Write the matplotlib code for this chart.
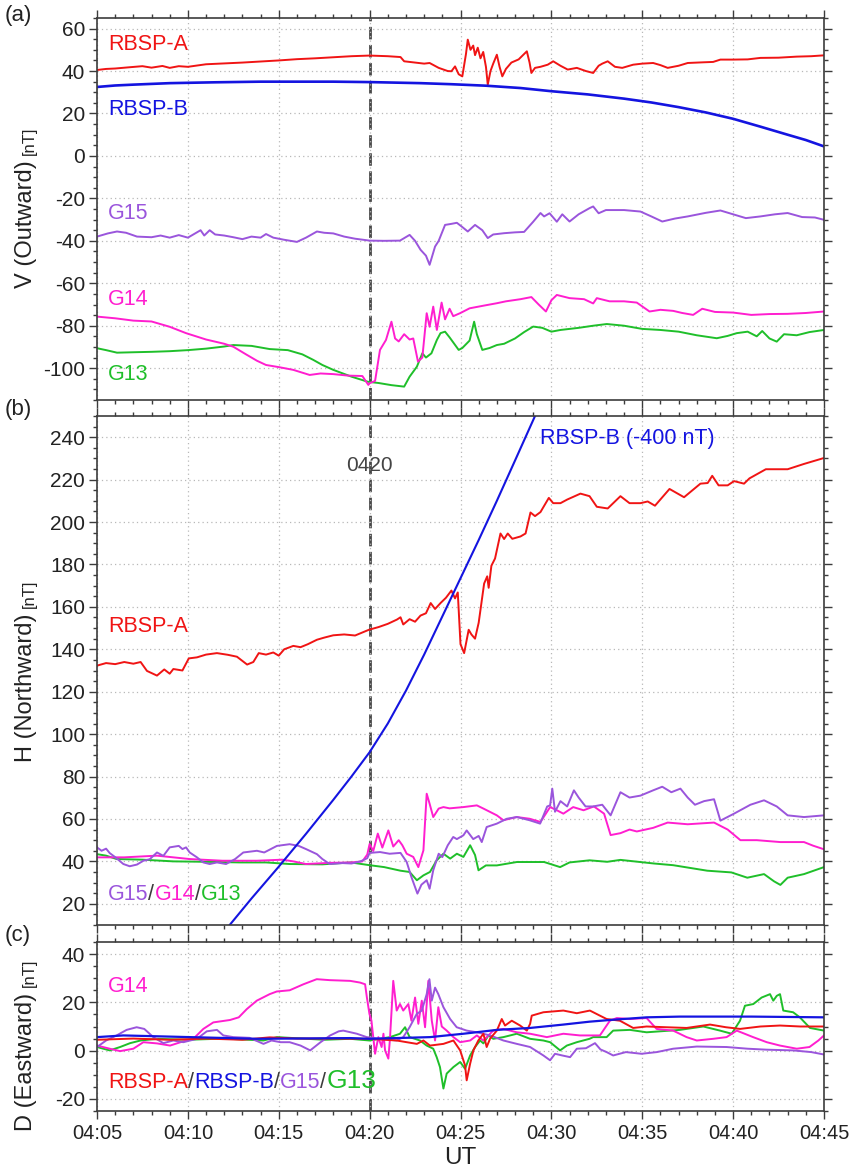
import matplotlib
matplotlib.use("Agg")
import matplotlib.pyplot as plt
import matplotlib.transforms as mtransforms
from matplotlib.ticker import FixedLocator, MultipleLocator

plt.rcParams['font.family'] = ['Liberation Sans', 'DejaVu Sans']
plt.rcParams['axes.unicode_minus'] = False

# time axis: minutes after 04:00 UT
xticks = [5, 10, 15, 20, 25, 30, 35, 40, 45]
xticklabels = ["04:05", "04:10", "04:15", "04:20", "04:25", "04:30", "04:35", "04:40", "04:45"]
t_mark = 20

# ---- panel (a): V (outward) ----
a_rbspa = [(5.0, 40.5), (5.5, 41.0), (6.0, 41.2), (6.8, 41.8), (7.5, 42.3), (8.0, 41.6), (8.6, 42.4),
           (9.0, 41.5), (9.5, 42.3), (10.0, 42.0), (11.0, 43.2), (12.0, 43.6), (13.0, 44.0), (14.0, 44.5),
           (15.0, 45.0), (16.0, 45.6), (17.0, 46.0), (18.0, 46.5), (19.0, 47.0), (20.0, 47.3), (21.0, 47.0),
           (21.7, 46.6), (21.9, 44.6), (22.5, 44.0), (23.0, 43.5), (23.3, 43.8), (23.8, 41.5), (24.3, 40.0),
           (24.5, 39.9), (24.7, 42.2), (24.9, 38.5), (25.1, 37.5), (25.3, 48.0), (25.4, 54.8), (25.55, 50.0),
           (25.7, 52.0), (25.8, 47.5), (25.95, 51.0), (26.1, 46.0), (26.25, 49.0), (26.4, 42.0), (26.5, 33.6),
           (26.65, 40.0), (26.8, 43.5), (27.0, 47.7), (27.15, 42.0), (27.3, 37.5), (27.5, 41.0), (27.8, 44.0),
           (28.2, 45.5), (28.65, 49.3), (28.8, 44.0), (28.9, 39.1), (29.1, 41.5), (29.4, 42.0), (29.8, 43.0),
           (30.1, 44.6), (30.5, 42.5), (30.9, 40.7), (31.4, 41.5), (31.9, 40.0), (32.3, 39.1), (32.6, 42.5),
           (32.8, 43.5), (33.1, 44.6), (33.5, 42.0), (33.9, 41.5), (34.5, 43.0), (35.0, 43.5), (35.6, 43.8),
           (36.0, 42.8), (36.4, 41.5), (37.0, 42.5), (37.5, 43.8), (38.3, 44.1), (38.9, 44.3), (39.3, 45.4),
           (40.0, 45.4), (40.8, 45.5), (41.5, 46.2), (42.5, 46.3), (43.5, 46.8), (44.3, 47.0), (45.0, 47.4)]
a_rbspb = [(5.0, 32.5), (6.0, 33.2), (7.0, 33.6), (9.0, 34.3), (11.5, 34.7), (14.0, 35.0), (18.0, 35.0),
           (20.0, 34.8), (22.8, 34.3), (24.5, 33.8), (26.4, 33.1), (28.3, 32.0), (30.0, 30.5), (32.0, 29.0),
           (34.0, 27.0), (35.5, 25.2), (37.0, 23.0), (38.5, 20.5), (40.0, 17.5), (41.5, 13.8), (43.0, 10.0),
           (44.0, 7.5), (45.0, 4.5)]
a_g15 = [(5.0, -38.0), (5.6, -36.5), (6.1, -35.6), (6.6, -36.2), (7.2, -38.0), (8.0, -38.3), (8.5, -37.5),
         (9.0, -38.5), (9.5, -37.3), (10.0, -38.5), (10.5, -36.0), (10.7, -35.0), (10.9, -37.5), (11.2, -35.0),
         (11.5, -37.0), (12.0, -37.5), (12.5, -38.3), (13.0, -39.2), (13.5, -38.0), (14.0, -38.5), (14.3, -36.8),
         (14.7, -38.5), (15.3, -39.5), (16.0, -40.5), (16.5, -38.5), (17.1, -35.6), (17.5, -36.2), (18.0, -36.5),
         (18.6, -38.0), (19.2, -39.0), (20.0, -39.9), (20.8, -40.0), (21.67, -39.9), (22.2, -37.2), (22.5, -40.0),
         (22.8, -44.2), (23.1, -47.0), (23.3, -51.3), (23.6, -42.7), (23.8, -40.0), (24.15, -32.5), (24.5, -32.0),
         (24.8, -31.5), (25.1, -33.5), (25.4, -35.6), (25.8, -32.5), (26.2, -35.0), (26.5, -38.7), (26.8, -37.0),
         (27.4, -36.4), (28.0, -36.0), (28.5, -35.8), (29.0, -31.0), (29.4, -26.9), (29.6, -28.5), (29.9, -27.0),
         (30.3, -31.0), (30.6, -27.5), (31.0, -30.9), (31.5, -27.5), (32.1, -24.6), (32.3, -23.8), (32.6, -27.0),
         (33.0, -25.5), (34.0, -25.5), (34.9, -26.2), (35.5, -28.5), (36.1, -30.9), (36.8, -29.5), (37.5, -28.5),
         (38.5, -26.8), (39.3, -25.7), (40.0, -27.5), (40.7, -29.3), (41.5, -28.5), (42.3, -27.5), (43.0, -26.9),
         (43.8, -28.8), (44.5, -29.0), (45.0, -30.1)]
a_g14 = [(5.0, -75.7), (6.0, -76.5), (7.0, -77.6), (8.0, -78.0), (9.0, -80.5), (9.9, -83.5), (11.0, -86.5),
         (12.0, -88.5), (12.5, -89.9), (13.2, -93.5), (13.8, -96.5), (14.3, -98.5), (15.0, -99.5), (15.8, -100.8),
         (16.7, -103.2), (17.3, -102.5), (18.0, -102.8), (18.8, -103.5), (19.6, -103.7), (19.93, -107.9),
         (20.0, -107.1), (20.3, -106.0), (20.57, -91.4), (20.9, -86.7), (21.2, -78.1), (21.4, -86.0), (21.6, -87.4),
         (21.9, -84.0), (22.2, -86.5), (22.4, -86.0), (22.66, -96.9), (22.9, -95.0), (23.14, -74.1), (23.3, -80.5),
         (23.5, -71.0), (23.7, -82.0), (23.96, -69.1), (24.15, -77.0), (24.4, -72.0), (24.6, -75.5), (25.0, -74.0),
         (25.5, -71.8), (26.3, -70.5), (27.0, -69.4), (27.5, -68.5), (28.3, -67.5), (28.9, -66.5), (29.3, -70.0),
         (29.7, -73.3), (30.0, -68.0), (30.3, -65.5), (31.0, -67.0), (31.8, -67.5), (32.3, -69.5), (32.5, -67.0),
         (33.2, -68.5), (34.0, -68.5), (34.7, -69.1), (35.4, -73.3), (36.0, -72.5), (36.7, -73.0), (37.2, -74.0),
         (37.8, -74.9), (38.3, -72.0), (39.0, -73.5), (40.0, -73.8), (41.0, -74.9), (42.0, -74.5), (43.0, -74.4),
         (44.0, -74.0), (45.0, -73.3)]
a_g13 = [(5.0, -90.6), (5.5, -91.5), (6.1, -92.7), (7.0, -92.5), (8.0, -92.3), (9.0, -92.0), (10.0, -91.5),
         (11.0, -90.8), (12.0, -89.8), (12.5, -89.1), (13.5, -89.5), (14.5, -91.0), (15.5, -91.5), (16.3, -93.5),
         (16.9, -96.1), (17.4, -98.5), (18.0, -100.8), (19.0, -104.0), (19.9, -106.4), (20.5, -107.0),
         (21.2, -108.0), (21.9, -108.7), (22.2, -104.0), (22.6, -99.3), (22.9, -93.0), (23.1, -95.0),
         (23.4, -93.0), (23.7, -86.7), (23.9, -83.5), (24.15, -82.8), (24.4, -85.5), (24.9, -91.4), (25.1, -90.5),
         (25.5, -87.0), (25.75, -78.1), (25.9, -84.0), (26.2, -91.4), (26.6, -90.5), (27.0, -89.1), (27.4, -88.5),
         (28.0, -86.0), (28.5, -83.0), (29.0, -80.4), (29.5, -81.0), (30.0, -82.8), (30.5, -82.0), (31.5, -81.0),
         (32.3, -80.0), (33.05, -79.2), (34.0, -80.0), (35.0, -81.5), (36.0, -82.0), (37.0, -82.8), (38.0, -84.5),
         (39.1, -85.9), (39.7, -84.8), (40.2, -83.5), (40.8, -82.8), (41.3, -85.0), (41.6, -82.5), (42.0, -86.0),
         (42.4, -87.5), (42.8, -84.0), (43.5, -84.5), (44.2, -83.0), (45.0, -82.0)]

# ---- panel (b): H (northward) ----
b_rbspa = [(5.0, 132.3), (5.5, 133.5), (6.0, 133.0), (6.5, 134.0), (7.0, 133.2), (7.4, 134.0), (7.75, 129.8),
           (8.3, 127.6), (8.7, 130.5), (9.0, 128.5), (9.2, 130.7), (9.7, 130.0), (10.05, 135.7), (10.5, 136.2),
           (11.0, 137.5), (11.6, 138.2), (12.2, 137.4), (12.7, 136.5), (13.26, 132.8), (13.6, 134.0),
           (13.9, 138.2), (14.3, 137.5), (14.7, 138.5), (15.0, 137.0), (15.3, 140.0), (15.8, 141.6), (16.2, 141.0),
           (16.6, 142.4), (17.1, 144.5), (17.5, 145.5), (18.0, 146.6), (18.6, 147.0), (19.2, 146.5),
           (19.96, 149.2), (20.5, 150.5), (21.0, 152.0), (21.5, 154.0), (21.7, 155.1), (21.85, 151.7),
           (22.2, 154.2), (22.5, 153.0), (22.8, 155.9), (23.1, 157.0), (23.36, 161.8), (23.6, 159.0),
           (23.9, 161.8), (24.2, 164.3), (24.5, 167.7), (24.7, 164.0), (24.85, 166.8), (25.0, 142.4),
           (25.2, 138.2), (25.45, 149.2), (25.6, 147.0), (25.8, 145.0), (26.0, 152.5), (26.3, 171.0),
           (26.47, 174.4), (26.55, 169.0), (26.7, 179.4), (26.9, 182.8), (27.2, 194.6), (27.4, 192.0),
           (27.6, 194.6), (27.85, 192.1), (28.3, 193.2), (28.58, 194.6), (28.85, 204.5), (29.1, 202.8),
           (29.4, 204.7), (29.86, 211.4), (30.1, 208.9), (30.5, 208.9), (30.87, 210.6), (31.6, 213.4),
           (32.1, 212.2), (32.5, 207.2), (33.1, 206.4), (33.8, 212.2), (34.3, 208.9), (34.9, 208.9),
           (35.3, 209.7), (35.7, 207.7), (36.5, 215.6), (37.3, 211.7), (38.2, 218.1), (38.6, 218.4),
           (38.85, 221.8), (39.2, 217.3), (39.7, 217.3), (40.05, 219.3), (40.6, 218.1), (40.9, 220.6),
           (41.8, 224.9), (43.0, 224.9), (43.9, 227.4), (45.0, 230.2)]
# RBSP-B plotted with a -400 nT offset
b_rbspb = [(12.3, 10.0), (13.5, 22.5), (15.0, 37.5), (16.5, 53.0), (18.0, 69.0), (19.0, 80.0), (20.0, 91.5),
           (21.0, 105.0), (22.0, 120.5), (23.0, 137.5), (24.0, 155.5), (25.0, 173.5), (26.0, 191.5),
           (27.0, 210.0), (28.0, 229.0), (29.1, 250.0)]
b_g15 = [(5.0, 46.6), (5.25, 45.0), (5.5, 46.0), (5.7, 43.9), (6.0, 42.0), (6.45, 38.75), (6.8, 37.7),
         (7.2, 38.5), (7.55, 40.3), (7.9, 41.0), (8.3, 44.2), (8.65, 42.6), (9.0, 46.6), (9.5, 47.3), (9.7, 45.8),
         (9.9, 46.6), (10.1, 44.2), (10.5, 41.9), (10.85, 39.5), (11.2, 38.75), (11.6, 39.5), (12.1, 38.75),
         (12.6, 41.1), (13.05, 44.2), (13.8, 45.0), (14.2, 44.2), (14.9, 47.3), (15.6, 48.1), (16.1, 47.3),
         (16.5, 45.8), (17.1, 43.4), (17.4, 41.1), (17.8, 38.75), (18.5, 39.2), (19.0, 39.0), (19.5, 40.0),
         (19.87, 41.5), (20.0, 44.0), (20.57, 44.4), (21.1, 43.6), (21.7, 44.0), (22.04, 39.7), (22.3, 32.6),
         (22.63, 24.8), (22.85, 29.0), (23.14, 31.1), (23.3, 27.1), (23.5, 35.8), (23.8, 43.6), (24.0, 42.0),
         (24.3, 47.6), (24.6, 51.5), (24.8, 50.5), (25.16, 52.3), (25.34, 54.6), (25.7, 50.5), (26.0, 52.0),
         (26.17, 49.1), (26.44, 56.2), (27.0, 57.8), (27.55, 60.1), (28.1, 60.9), (28.8, 59.4), (29.38, 57.8),
         (29.77, 65.9), (29.93, 66.4), (30.05, 74.3), (30.2, 63.4), (30.5, 68.4), (30.87, 65.9), (31.24, 73.5),
         (31.5, 70.1), (31.88, 65.9), (32.3, 65.9), (32.8, 66.7), (33.26, 61.7), (33.8, 72.6), (34.3, 70.1),
         (34.9, 71.0), (35.6, 73.5), (36.1, 75.2), (36.6, 72.6), (37.1, 74.3), (37.5, 70.1), (37.9, 66.7),
         (38.4, 68.4), (38.95, 69.3), (39.3, 59.2), (40.05, 62.5), (40.95, 66.7), (41.7, 68.8), (42.4, 65.9),
         (43.0, 61.7), (43.9, 60.9), (45.0, 61.7)]
b_g14 = [(5.0, 41.9), (6.5, 41.9), (8.3, 42.7), (10.1, 41.1), (11.9, 40.3), (13.8, 40.3), (15.2, 40.8),
         (15.8, 40.0), (16.5, 38.75), (17.8, 39.3), (19.0, 39.5), (19.6, 40.0), (19.87, 43.2), (20.0, 48.2),
         (20.2, 44.9), (20.45, 53.1), (20.7, 46.5), (21.03, 54.6), (21.3, 47.0), (21.6, 50.0), (21.8, 47.6),
         (22.04, 43.6), (22.4, 42.1), (22.68, 37.3), (22.96, 45.2), (23.14, 71.9), (23.3, 67.2), (23.5, 60.9),
         (23.8, 64.9), (24.06, 65.6), (24.4, 65.0), (25.16, 65.6), (25.9, 66.4), (26.26, 64.9), (27.0, 61.7),
         (27.36, 59.4), (28.1, 60.9), (28.8, 60.1), (29.4, 58.6), (29.93, 65.6), (30.3, 64.1), (30.66, 62.5),
         (31.2, 65.6), (31.77, 64.1), (32.34, 65.9), (32.9, 62.5), (33.26, 52.4), (33.8, 53.3), (34.3, 55.0),
         (34.7, 54.1), (35.6, 55.8), (36.4, 58.3), (37.5, 57.5), (38.95, 58.3), (39.7, 55.0), (40.4, 50.0),
         (41.3, 50.0), (42.6, 49.1), (43.9, 49.1), (44.4, 47.4), (45.0, 45.7)]
b_g13 = [(5.0, 43.4), (5.5, 42.7), (6.08, 41.1), (7.5, 40.8), (9.2, 40.0), (11.0, 39.8), (12.87, 39.5),
         (14.3, 39.5), (15.6, 38.75), (17.4, 38.6), (18.97, 39.5), (20.0, 38.2), (20.8, 37.3), (21.7, 35.6),
         (22.2, 35.0), (22.6, 31.1), (22.96, 33.4), (23.32, 35.0), (23.69, 40.5), (24.06, 43.6), (24.43, 41.3),
         (24.8, 43.6), (25.16, 42.1), (25.53, 47.6), (25.8, 43.0), (25.99, 35.8), (26.4, 38.1), (27.0, 38.1),
         (28.1, 39.7), (29.6, 39.7), (30.48, 37.3), (31.0, 39.5), (32.1, 40.5), (33.07, 39.8), (33.8, 40.7),
         (35.64, 39.0), (36.7, 38.2), (38.58, 35.6), (39.9, 34.8), (40.78, 32.3), (41.7, 34.0), (42.25, 30.6),
         (42.6, 28.9), (43.0, 32.3), (43.9, 34.0), (45.0, 37.3)]

# ---- panel (c): D (eastward) ----
c_g14 = [(5.0, 2.1), (5.7, 0.8), (6.27, -0.2), (7.0, 0.8), (7.55, 3.5), (8.3, 3.0), (9.02, 2.1), (9.6, 3.5),
         (10.3, 4.9), (10.85, 9.0), (11.4, 11.7), (12.32, 12.7), (12.8, 13.8), (13.24, 17.2), (13.79, 20.7),
         (14.5, 23.4), (14.89, 24.5), (15.6, 25.0), (16.36, 27.5), (17.09, 29.6), (17.8, 29.2), (18.93, 28.9),
         (19.47, 28.2), (19.75, 27.5), (19.85, 22.0), (19.99, 15.2), (20.1, 12.4), (20.3, -1.3), (20.48, 5.6),
         (20.66, 1.5), (20.76, 7.0), (20.85, 0.1), (21.03, -3.3), (21.12, 5.0), (21.3, 28.9), (21.49, 16.6),
         (21.67, 19.3), (21.85, 16.6), (22.13, 19.3), (22.3, 12.4), (22.5, 22.0), (22.68, 11.1), (22.87, 20.7),
         (23.05, 9.7), (23.23, 28.9), (23.42, 12.4), (23.6, 4.2), (23.78, 18.0), (23.97, 10.0), (24.24, 8.3),
         (24.61, 5.6), (24.98, 3.5), (25.53, 4.2), (25.9, 6.3), (26.26, 4.2), (26.8, 8.3), (27.36, 9.0),
         (28.1, 7.6), (28.83, 7.0), (29.75, 5.6), (30.66, 7.0), (31.57, 6.3), (32.67, 6.3), (33.22, 12.4),
         (33.6, 13.5), (34.32, 13.1), (35.24, 13.5), (35.79, 9.0), (36.7, 8.3), (37.44, 5.6), (38.0, 4.2),
         (38.9, 4.9), (39.64, 5.6), (40.2, 8.3), (41.1, 5.6), (41.85, 3.5), (42.58, 2.1), (43.5, 0.8),
         (44.2, 1.5), (44.69, 4.2), (45.0, 6.3)]
c_g15 = [(5.0, 1.5), (5.5, 4.2), (6.08, 6.3), (6.63, 8.6), (7.18, 9.7), (7.6, 9.0), (8.1, 5.6), (8.65, 3.1),
         (9.2, 4.2), (9.75, 3.5), (10.5, 4.9), (11.04, 8.0), (11.6, 8.6), (11.95, 6.3), (12.5, 5.6), (13.4, 5.3),
         (14.16, 2.8), (14.6, 4.2), (15.1, 3.5), (15.6, 3.5), (16.2, 2.1), (16.73, 0.1), (17.3, 3.5),
         (17.83, 6.3), (18.3, 8.0), (18.55, 8.3), (19.3, 7.0), (19.84, 5.6), (20.6, 4.9), (21.49, 4.2),
         (21.85, 5.6), (22.2, 9.7), (22.59, 15.2), (22.87, 16.6), (23.14, 23.4), (23.29, 29.6), (23.42, 20.7),
         (23.6, 26.1), (23.78, 23.4), (24.06, 18.0), (24.43, 13.1), (24.79, 9.7), (25.34, 8.3), (25.9, 7.6),
         (26.63, 6.3), (27.36, 4.2), (28.1, 2.8), (28.83, 1.5), (29.56, -2.0), (29.93, -4.0), (30.2, -1.3),
         (30.6, -2.0), (31.03, -2.7), (31.4, 0.8), (31.9, 1.0), (32.4, 3.1), (32.7, 0.5), (33.04, -0.6),
         (33.4, -2.0), (34.1, -0.6), (34.96, -1.3), (35.8, -0.6), (36.7, 0.8), (38.0, 1.7), (39.64, 1.5),
         (40.8, 0.8), (41.85, 0.4), (43.3, 0.1), (44.3, -0.6), (45.0, -1.6)]
c_rbspa = [(5.0, 4.5), (7.0, 5.0), (9.0, 4.5), (11.0, 5.0), (13.0, 4.5), (14.5, 5.5), (16.0, 5.0), (18.0, 5.0),
           (20.0, 4.9), (21.49, 4.2), (22.04, 3.5), (22.6, 2.8), (22.96, 4.2), (23.32, 2.1), (24.06, 2.8),
           (24.61, 4.2), (24.98, 0.1), (25.25, -6.1), (25.34, -12.3), (25.53, -5.4), (25.71, 0.1), (25.98, 4.2),
           (26.26, 7.0), (26.44, 1.5), (26.63, 5.0), (27.0, 8.3), (27.27, 13.1), (27.45, 10.4), (27.82, 12.4),
           (28.28, 10.4), (28.65, 8.3), (28.83, 11.1), (28.92, 14.5), (29.56, 15.9), (30.66, 16.6), (31.4, 15.5),
           (32.12, 16.6), (32.67, 14.5), (33.04, 13.1), (33.77, 12.4), (34.5, 9.4), (35.24, 10.0), (36.3, 9.7),
           (37.44, 9.4), (38.73, 10.8), (39.6, 9.7), (40.38, 9.0), (41.5, 10.0), (42.58, 10.4), (43.7, 10.0),
           (45.0, 10.0)]
c_rbspb = [(5.0, 5.6), (6.45, 6.3), (10.12, 5.6), (13.79, 4.9), (18.93, 5.2), (20.0, 4.9), (23.32, 5.6),
           (25.16, 7.0), (27.0, 8.6), (28.83, 9.4), (30.66, 10.8), (32.1, 12.0), (33.4, 12.8), (35.24, 13.8),
           (37.07, 14.1), (41.0, 14.1), (45.0, 13.8)]
c_g13 = [(5.0, 1.5), (5.7, 0.1), (6.27, 1.5), (6.82, 3.1), (7.4, 4.2), (8.3, 4.9), (10.0, 4.5), (12.0, 5.0),
         (14.16, 4.2), (14.9, 5.6), (17.5, 4.5), (18.93, 4.9), (20.0, 4.2), (21.12, 5.6), (21.67, 7.0),
         (21.95, 9.7), (22.2, 5.6), (22.77, 4.2), (23.14, 2.1), (23.5, 0.8), (23.69, -2.7), (23.87, -6.8),
         (24.06, -15.7), (24.24, -9.5), (24.61, -6.8), (24.98, -4.7), (25.25, -7.5), (25.53, -2.0), (25.8, 1.5),
         (26.08, 4.2), (26.26, 3.0), (26.54, 6.3), (26.8, 4.9), (27.36, 5.6), (28.1, 7.0), (28.83, 4.9),
         (29.56, 4.2), (29.93, 3.5), (30.48, 0.1), (30.85, 2.1), (31.4, 3.5), (32.1, 4.9), (32.3, 5.6),
         (33.04, 5.6), (33.4, 8.3), (34.32, 8.6), (35.24, 7.6), (37.07, 8.6), (38.36, 10.0), (39.28, 8.3),
         (39.92, 7.0), (40.38, 12.4), (40.65, 18.6), (41.11, 19.3), (41.57, 22.0), (42.03, 23.4), (42.21, 20.7),
         (42.4, 22.7), (42.58, 23.4), (42.76, 16.6), (43.3, 15.9), (43.67, 13.8), (44.23, 9.4), (45.0, 8.3)]

RED, BLUE, PURPLE, MAGENTA, GREEN = '#f01414', '#1414e0', '#9a55dc', '#ff1ecf', '#1fbf2a'
DARK = '#3c3c3c'

W, H = 852, 1172
fig = plt.figure(figsize=(W / 100, H / 100), dpi=100)


def make_axes(top_px, bottom_px):
    return fig.add_axes([97 / W, 1 - bottom_px / H, (824 - 97) / W, (bottom_px - top_px) / H])


ax_a = make_axes(18, 400)
ax_b = make_axes(416, 925)
ax_c = make_axes(942, 1111)


def draw(ax, series, color, lw=1.4, z=2):
    t = [p[0] for p in series]
    v = [p[1] for p in series]
    ax.plot(t, v, color=color, lw=lw, zorder=z, solid_joinstyle='round')


def style(ax, ylim, yticks, show_x):
    ax.set_xlim(5, 45)
    ax.set_ylim(*ylim)
    ax.xaxis.set_major_locator(FixedLocator(xticks))
    ax.xaxis.set_minor_locator(MultipleLocator(1))
    ax.yaxis.set_major_locator(FixedLocator(yticks))
    ax.yaxis.set_minor_locator(MultipleLocator(5))
    if show_x:
        ax.set_xticklabels(xticklabels)
    else:
        ax.set_xticklabels([])
    ax.tick_params(which='both', direction='out', top=True, right=True, color=DARK, width=1.0)
    ax.tick_params(which='major', length=5.5)
    ax.tick_params(which='minor', length=3)
    ax.tick_params(axis='y', labelsize=15, labelcolor='#222222', pad=3)
    ax.tick_params(axis='x', labelsize=14.5, labelcolor='#222222', pad=4)
    for s in ax.spines.values():
        s.set_color(DARK)
        s.set_linewidth(1.2)
    ax.grid(True, which='major', ls=(0, (1, 2.5)), color='#b8b8b8', lw=0.9)
    ax.axvline(t_mark, color='#484848', ls=(0, (4.5, 2)), lw=2.0, zorder=1.5)


def ylabel(ax, main, unit, shift_px):
    tr = mtransforms.blended_transform_factory(fig.transFigure, ax.transAxes)
    tr = mtransforms.offset_copy(tr, fig=fig, y=-shift_px, units='dots')
    t1 = ax.text(26 / W, 0.5, main, transform=tr, rotation=90, ha='center', va='center',
                 fontsize=17, color='#222222')
    ax.annotate(unit, xy=(1, 1), xycoords=t1, xytext=(0, 4), textcoords='offset points',
                rotation=90, ha='right', va='bottom', fontsize=12, color='#222222')


def label(ax, x, y, parts, size=15.5):
    prev = None
    for s, c, *fs in parts:
        f = fs[0] if fs else size
        if prev is None:
            prev = ax.text(x, y, s, color=c, fontsize=f, ha='left', va='center')
        else:
            prev = ax.annotate(s, xy=(1, 0), xycoords=prev, color=c, fontsize=f,
                               ha='left', va='bottom')


# panel (a)
style(ax_a, (-115, 65), list(range(-100, 61, 20)), False)
for ser, col in [(a_g13, GREEN), (a_g14, MAGENTA), (a_g15, PURPLE), (a_rbspa, RED)]:
    draw(ax_a, ser, col)
draw(ax_a, a_rbspb, BLUE, lw=1.9)
label(ax_a, 5.6, 52.5, [("RBSP-A", RED)])
label(ax_a, 5.6, 22.0, [("RBSP-B", BLUE)])
label(ax_a, 5.6, -27.0, [("G15", PURPLE)])
label(ax_a, 5.6, -67.8, [("G14", MAGENTA)])
label(ax_a, 5.6, -103.2, [("G13", GREEN)])
ylabel(ax_a, "V (Outward)", "[nT]", 15)

# panel (b)
style(ax_b, (10, 250), list(range(20, 241, 20)), False)
for ser, col in [(b_g13, GREEN), (b_g14, MAGENTA), (b_g15, PURPLE), (b_rbspa, RED)]:
    draw(ax_b, ser, col)
draw(ax_b, b_rbspb, BLUE, lw=1.5)
label(ax_b, 5.6, 150.7, [("RBSP-A", RED)])
label(ax_b, 29.37, 239.5, [("RBSP-B (-400 nT)", BLUE)])
label(ax_b, 5.6, 24.2, [("G15", PURPLE), ("/", DARK), ("G14", MAGENTA), ("/", DARK), ("G13", GREEN)])
ax_b.text(t_mark, 226.8, "0420", color='#444444', fontsize=15, ha='center', va='center')
ylabel(ax_b, "H (Northward)", "[nT]", 17)

# panel (c)
style(ax_c, (-25, 45), list(range(-20, 41, 20)), True)
for ser, col in [(c_g13, GREEN), (c_g14, MAGENTA), (c_g15, PURPLE), (c_rbspa, RED)]:
    draw(ax_c, ser, col)
draw(ax_c, c_rbspb, BLUE, lw=1.6)
label(ax_c, 5.6, 26.4, [("G14", MAGENTA)])
label(ax_c, 5.6, -13.0, [("RBSP-A", RED), ("/", DARK), ("RBSP-B", BLUE), ("/", DARK), ("G15", PURPLE),
                         ("/", DARK), ("G13", GREEN, 19)])
ylabel(ax_c, "D (Eastward)", "[nT]", 35)
ax_c.set_xlabel("UT", fontsize=17.5, color='#222222', labelpad=2.5)

# panel letters
for letter, ypx in [("(a)", 15), ("(b)", 410), ("(c)", 936)]:
    fig.text(5 / W, 1 - ypx / H, letter, fontsize=16, ha='left', va='center', color='#222222')

fig.savefig('out.png', dpi=100)
